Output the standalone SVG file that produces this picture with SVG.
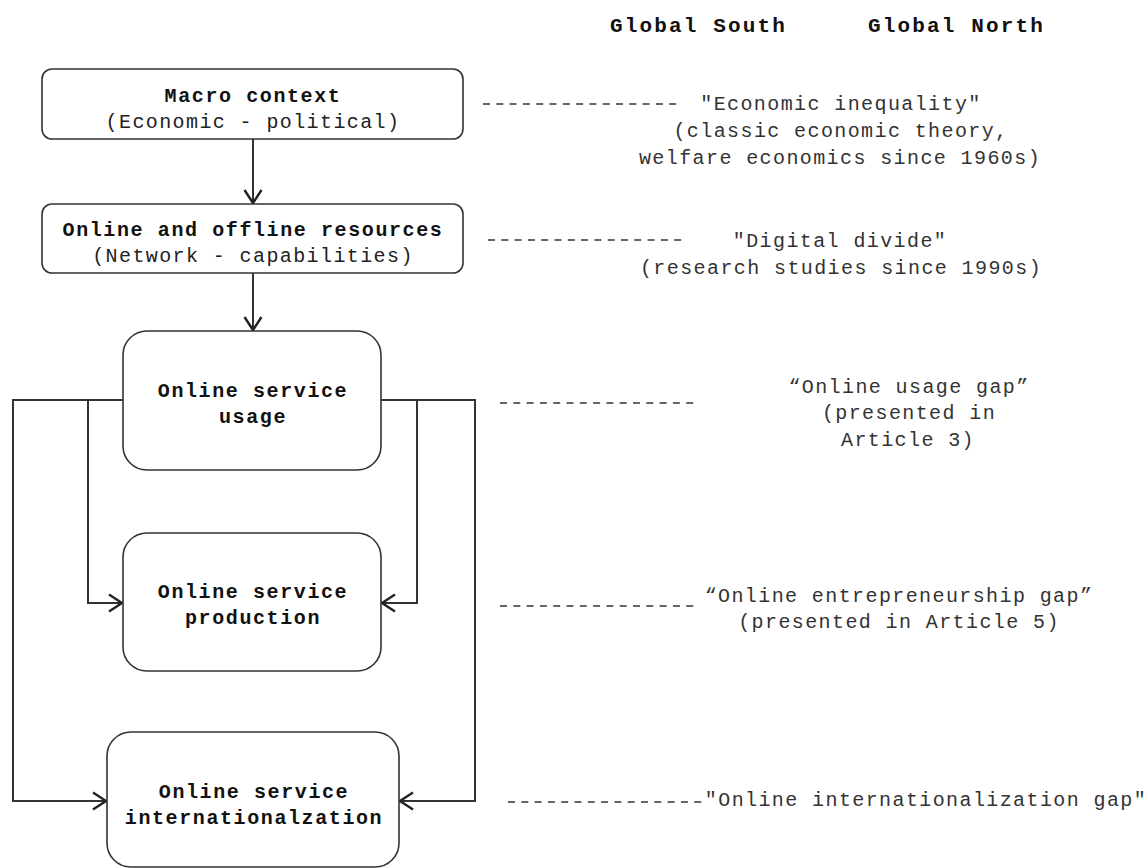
<svg xmlns="http://www.w3.org/2000/svg" width="1146" height="868" viewBox="0 0 1146 868">
  <style>
    .box { fill: #ffffff; stroke: #333333; stroke-width: 1.6; }
    .nt { font-family: "Liberation Mono", "Courier New", monospace; font-size: 20px; letter-spacing: 1.6px; font-weight: bold; fill: #111111; text-anchor: middle; }
    .ns { font-family: "Liberation Mono", "Courier New", monospace; font-size: 20px; letter-spacing: 1.4px; fill: #222222; text-anchor: middle; }
    .hd { font-family: "Liberation Mono", "Courier New", monospace; font-size: 21px; letter-spacing: 2.15px; font-weight: bold; fill: #111111; }
    .rt { font-family: "Liberation Mono", "Courier New", monospace; font-size: 20px; letter-spacing: 1.4px; fill: #333333; text-anchor: middle; }
    .conn { fill: none; stroke: #333333; stroke-width: 2; }
    .dash { stroke: #666666; stroke-width: 1.8; stroke-dasharray: 7 6.3; }
  </style>
  <defs>
    <marker id="arr" markerUnits="userSpaceOnUse" markerWidth="20" markerHeight="20" viewBox="-15 -10 17 20" refX="0" refY="0" orient="auto">
      <path d="M-13,-8.5 L0,0 L-13,8.5" fill="none" stroke="#222222" stroke-width="2.4"/>
    </marker>
  </defs>
  <rect width="1146" height="868" fill="#ffffff"/>

  <g id="headers">
    <text class="hd" x="610" y="32">Global South</text>
    <text class="hd" x="868" y="32">Global North</text>
  </g>

  <g id="connectors">
    <path class="conn" d="M253,139 V203" marker-end="url(#arr)"/>
    <path class="conn" d="M253,273 V330" marker-end="url(#arr)"/>
    <path class="conn" d="M123,400 H88 V603 H122" marker-end="url(#arr)"/>
    <path class="conn" d="M123,400 H13 V801 H106" marker-end="url(#arr)"/>
    <path class="conn" d="M381,400 H417 V603 H382" marker-end="url(#arr)"/>
    <path class="conn" d="M381,400 H475 V801 H400" marker-end="url(#arr)"/>
  </g>

  <g id="node-macro">
    <rect class="box" x="42" y="69" width="421" height="70" rx="10"/>
    <text class="nt" x="253" y="102">Macro context</text>
    <text class="ns" x="253" y="128">(Economic - political)</text>
  </g>

  <g id="node-resources">
    <rect class="box" x="42" y="204" width="421" height="69" rx="10"/>
    <text class="nt" x="253" y="236">Online and offline resources</text>
    <text class="ns" x="253" y="262">(Network - capabilities)</text>
  </g>

  <g id="node-usage">
    <rect class="box" x="123" y="331" width="258" height="139" rx="24"/>
    <text class="nt" x="253" y="397">Online service</text>
    <text class="nt" x="253" y="423">usage</text>
  </g>

  <g id="node-production">
    <rect class="box" x="123" y="533" width="258" height="138" rx="24"/>
    <text class="nt" x="253" y="598">Online service</text>
    <text class="nt" x="253" y="624">production</text>
  </g>

  <g id="node-internationalization">
    <rect class="box" x="107" y="732" width="292" height="135" rx="24"/>
    <text class="nt" x="254" y="798">Online service</text>
    <text class="nt" x="254" y="824">internationalzation</text>
  </g>

  <g id="leaders">
    <line class="dash" x1="483" y1="104" x2="682" y2="104"/>
    <line class="dash" x1="488" y1="240" x2="683" y2="240"/>
    <line class="dash" x1="500" y1="403" x2="697" y2="403"/>
    <line class="dash" x1="500" y1="606" x2="697" y2="606"/>
    <line class="dash" x1="508" y1="802" x2="706" y2="802"/>
  </g>

  <g id="labels">
    <text class="rt" x="841" y="110">"Economic inequality"</text>
    <text class="rt" x="841" y="137">(classic economic theory,</text>
    <text class="rt" x="840" y="164">welfare economics since 1960s)</text>
    <text class="rt" x="840" y="247">"Digital divide"</text>
    <text class="rt" x="841" y="274">(research studies since 1990s)</text>
    <text class="rt" x="909" y="393">“Online usage gap”</text>
    <text class="rt" x="909" y="419">(presented in</text>
    <text class="rt" x="908" y="446">Article 3)</text>
    <text class="rt" x="899" y="602">“Online entrepreneurship gap”</text>
    <text class="rt" x="899" y="628">(presented in Article 5)</text>
    <text class="rt" x="926" y="806">"Online internationalization gap"</text>
  </g>
</svg>
